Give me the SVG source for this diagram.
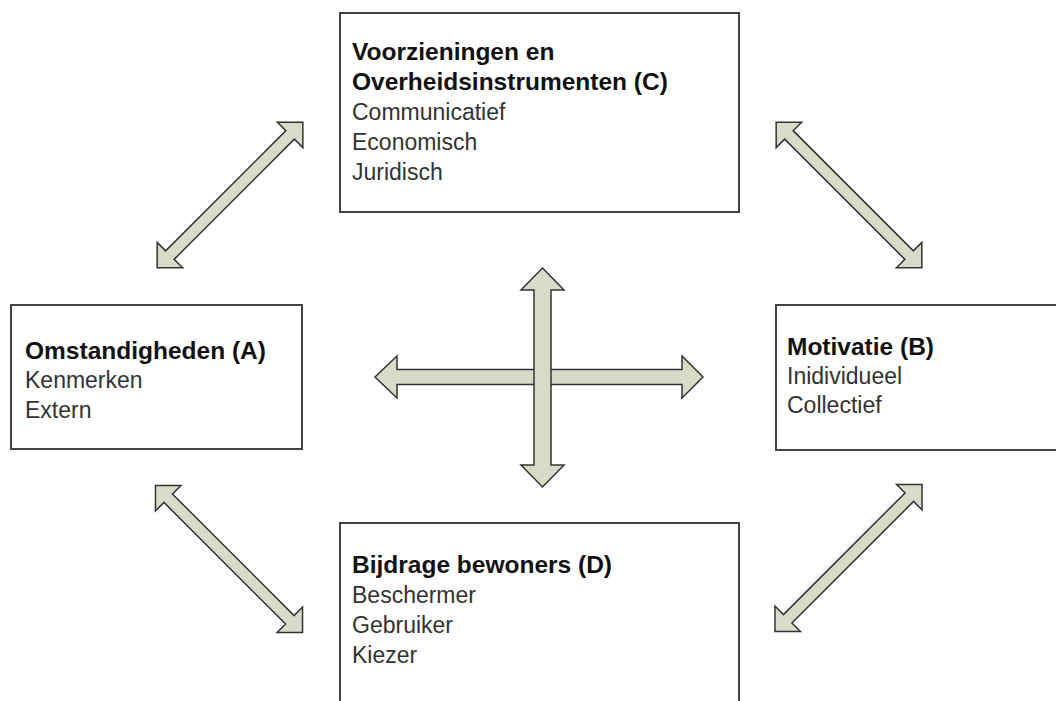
<svg xmlns="http://www.w3.org/2000/svg" width="1056" height="701" viewBox="0 0 1056 701">
<style>
.box{fill:#fff;stroke:#444;stroke-width:2}
.t{font-family:"Liberation Sans",Arial,sans-serif;font-size:23px;fill:#333}
.b{font-family:"Liberation Sans",Arial,sans-serif;font-size:24.5px;font-weight:bold;fill:#111}
.arr{fill:#d9dbc9;stroke:#333;stroke-width:1.5;stroke-linejoin:miter}
</style>
<rect width="1056" height="701" fill="#fff"/>
<g id="connectors">
<polygon class="arr" transform="translate(230,195) rotate(-45)" points="-103,0 -85,-18 -85,-6 85,-6 85,-18 103,0 85,18 85,6 -85,6 -85,18"/>
<polygon class="arr" transform="translate(849,195) rotate(45)" points="-103,0 -85,-18 -85,-6 85,-6 85,-18 103,0 85,18 85,6 -85,6 -85,18"/>
<polygon class="arr" transform="translate(229,559) rotate(45)" points="-104,0 -86,-18 -86,-6 86,-6 86,-18 104,0 86,18 86,6 -86,6 -86,18"/>
<polygon class="arr" transform="translate(848.5,558) rotate(-45)" points="-104,0 -86,-18 -86,-6 86,-6 86,-18 104,0 86,18 86,6 -86,6 -86,18"/>
<polygon class="arr" points="375,377 397,356 397,369.5 682,369.5 682,356 703,377 682,398 682,384.5 397,384.5 397,398"/>
<polygon class="arr" points="542.5,268 564,290 551,290 551,465 564,465 542.5,487 521,465 534,465 534,290 521,290"/>
</g>
<g id="nodeC">
<rect class="box" x="340" y="13" width="399" height="199"/>
<text class="b" x="352" y="60">Voorzieningen en</text>
<text class="b" x="352" y="90">Overheidsinstrumenten (C)</text>
<text class="t" x="352" y="120">Communicatief</text>
<text class="t" x="352" y="150">Economisch</text>
<text class="t" x="352" y="180">Juridisch</text>
</g>
<g id="nodeA">
<rect class="box" x="11" y="305" width="291" height="144"/>
<text class="b" x="25" y="359">Omstandigheden (A)</text>
<text class="t" x="25" y="388">Kenmerken</text>
<text class="t" x="25" y="418">Extern</text>
</g>
<g id="nodeB">
<rect class="box" x="776" y="305" width="300" height="145"/>
<text class="b" x="787" y="355">Motivatie (B)</text>
<text class="t" x="787" y="384">Inidividueel</text>
<text class="t" x="787" y="413">Collectief</text>
</g>
<g id="nodeD">
<rect class="box" x="340" y="523" width="399" height="200"/>
<text class="b" x="352" y="573">Bijdrage bewoners (D)</text>
<text class="t" x="352" y="603">Beschermer</text>
<text class="t" x="352" y="633">Gebruiker</text>
<text class="t" x="352" y="663">Kiezer</text>
</g>
</svg>
